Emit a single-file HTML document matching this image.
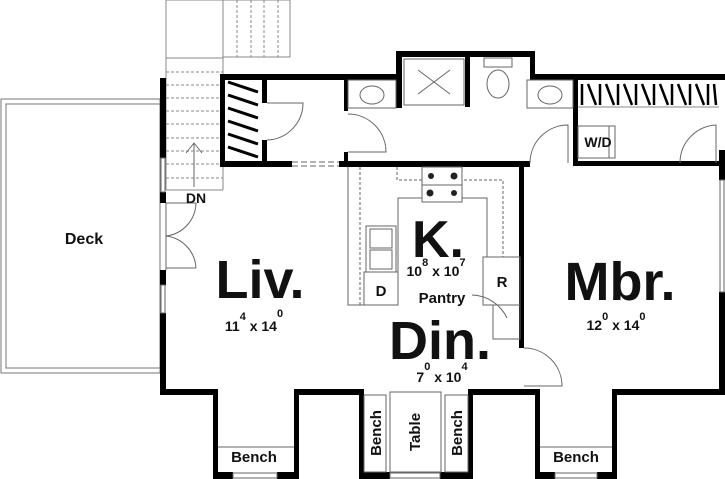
<!DOCTYPE html>
<html><head><style>
body{margin:0;background:#fff}
svg{display:block}
text{font-family:"Liberation Sans",Arial,sans-serif;font-weight:bold;fill:#111}
</style></head><body>
<svg width="725" height="479" viewBox="0 0 725 479" xmlns="http://www.w3.org/2000/svg">
<!-- Deck -->
<rect x="1" y="99" width="159" height="274" fill="none" stroke="#777" stroke-width="1"/>
<rect x="6" y="104" width="154" height="264" fill="none" stroke="#777" stroke-width="1"/>
<!-- upper stair -->
<g stroke="#888" stroke-width="1" fill="none">
<rect x="166" y="0" width="57" height="58"/>
<rect x="223" y="0" width="67" height="57"/>
<line x1="237" y1="0" x2="237" y2="57" stroke-dasharray="3,2"/>
<line x1="251" y1="0" x2="251" y2="57" stroke-dasharray="3,2"/>
<line x1="264" y1="0" x2="264" y2="57" stroke-dasharray="3,2"/>
<line x1="278" y1="0" x2="278" y2="57" stroke-dasharray="3,2"/>
<line x1="166" y1="58" x2="166" y2="190"/>
<line x1="223" y1="58" x2="223" y2="190"/>
<line x1="166" y1="190" x2="223" y2="190"/>
</g>
<g stroke="#888" stroke-width="1" stroke-dasharray="3,2">
<line x1="166" y1="72" x2="223" y2="72"/><line x1="166" y1="85" x2="223" y2="85"/>
<line x1="166" y1="98" x2="223" y2="98"/><line x1="166" y1="111" x2="223" y2="111"/>
<line x1="166" y1="124" x2="223" y2="124"/><line x1="166" y1="138" x2="223" y2="138"/>
<line x1="166" y1="151" x2="223" y2="151"/><line x1="166" y1="164" x2="223" y2="164"/>
<line x1="166" y1="178" x2="223" y2="178"/>
</g>
<g stroke="#666" stroke-width="1" fill="none">
<line x1="194" y1="187" x2="194" y2="143"/>
<polyline points="186,153 194,143 202,153"/>
</g>
<!-- thick walls -->
<g fill="#000">
<rect x="160" y="78" width="6" height="80"/>
<rect x="160" y="192" width="6" height="11"/>
<rect x="160" y="270" width="6" height="15"/>
<rect x="160" y="313" width="6" height="81"/>
<rect x="160" y="389" width="58" height="6"/>
<rect x="213" y="389" width="5" height="90"/>
<rect x="213" y="472" width="20" height="7"/>
<rect x="277" y="472" width="22" height="7"/>
<rect x="294" y="389" width="5" height="90"/>
<rect x="294" y="389" width="70" height="6"/>
<rect x="359" y="389" width="5" height="90"/>
<rect x="359" y="472" width="31" height="7"/>
<rect x="440" y="472" width="33" height="7"/>
<rect x="468" y="389" width="5" height="90"/>
<rect x="468" y="389" width="72" height="6"/>
<rect x="535" y="389" width="5" height="90"/>
<rect x="535" y="472" width="20" height="7"/>
<rect x="597" y="472" width="20" height="7"/>
<rect x="612" y="389" width="5" height="90"/>
<rect x="612" y="389" width="113" height="6"/>
<rect x="719" y="150" width="6" height="30"/>
<rect x="719" y="292" width="6" height="100"/>
<rect x="220" y="74" width="181" height="6"/>
<rect x="220" y="74" width="5" height="93"/>
<rect x="396" y="51" width="6" height="29"/>
<rect x="396" y="51" width="139" height="6"/>
<rect x="530" y="51" width="5" height="28"/>
<rect x="530" y="74" width="195" height="6"/>
<rect x="220" y="161" width="72" height="6"/>
<rect x="339" y="161" width="191" height="6"/>
<rect x="262" y="80" width="5" height="23"/>
<rect x="262" y="140" width="5" height="24"/>
<rect x="344" y="80" width="4" height="31"/>
<rect x="344" y="152" width="4" height="12"/>
<rect x="396" y="57" width="6" height="51"/>
<rect x="465" y="57" width="5" height="50"/>
<rect x="573" y="80" width="5" height="86"/>
<rect x="573" y="161" width="148" height="5"/>
<rect x="519" y="163" width="5" height="185"/>
</g>
<!-- closet rods -->
<g stroke="#000" stroke-width="3">
<line x1="228" y1="82" x2="258" y2="92"/><line x1="228" y1="95" x2="258" y2="105"/>
<line x1="228" y1="108" x2="258" y2="118"/><line x1="228" y1="121" x2="258" y2="131"/>
<line x1="228" y1="134" x2="258" y2="144"/><line x1="228" y1="147" x2="258" y2="157"/>
</g>
<g stroke="#000" stroke-width="2.5">
<line x1="582" y1="84" x2="582" y2="105"/><line x1="588" y1="84" x2="596" y2="105"/>
<line x1="600" y1="84" x2="600" y2="105"/><line x1="606" y1="84" x2="614" y2="105"/>
<line x1="618" y1="84" x2="618" y2="105"/><line x1="624" y1="84" x2="632" y2="105"/>
<line x1="636" y1="84" x2="636" y2="105"/><line x1="642" y1="84" x2="650" y2="105"/>
<line x1="654" y1="84" x2="654" y2="105"/><line x1="660" y1="84" x2="668" y2="105"/>
<line x1="672" y1="84" x2="672" y2="105"/><line x1="678" y1="84" x2="686" y2="105"/>
<line x1="690" y1="84" x2="690" y2="105"/><line x1="696" y1="84" x2="704" y2="105"/>
<line x1="708" y1="84" x2="708" y2="105"/><line x1="714" y1="84" x2="716" y2="105"/>
</g>
<line x1="578" y1="107" x2="719" y2="107" stroke="#888"/>
<g stroke="#666" stroke-width="1" fill="none">
<path d="M267 103 L303 103 A37 37 0 0 1 267 140"/>
<path d="M348 114 A38 38 0 0 1 386 152 L348 152"/>
<rect x="348" y="80" width="48" height="28"/>
<ellipse cx="372" cy="95" rx="12" ry="9"/>
<rect x="404" y="59" width="60" height="46"/>
<line x1="418" y1="70" x2="450" y2="94"/><line x1="450" y1="70" x2="418" y2="94"/>
<rect x="484" y="58" width="28" height="9"/>
<ellipse cx="498" cy="84" rx="11" ry="14"/>
<rect x="527" y="80" width="46" height="28"/>
<ellipse cx="550" cy="95" rx="12" ry="9"/>
<path d="M530 163 A38 38 0 0 1 568 125 L568 163"/>
<path d="M680 163 A38 38 0 0 1 716 125 L716 163"/>
<rect x="578" y="126" width="37" height="32"/>
<line x1="609" y1="126" x2="609" y2="158"/>
<line x1="292" y1="162" x2="339" y2="162" stroke-dasharray="6,3"/>
<line x1="292" y1="166" x2="339" y2="166" stroke-dasharray="6,3"/>
<rect x="161" y="158" width="4" height="34"/>
<rect x="161" y="285" width="4" height="28"/>
<rect x="720" y="180" width="4" height="112"/>
<rect x="233" y="473" width="44" height="5"/>
<rect x="390" y="473" width="50" height="5"/>
<rect x="555" y="473" width="42" height="5"/>
<path d="M166 203 L166 270 M166 236 A34 34 0 0 0 196 203 M166 236 A34 34 0 0 1 196 268 M166 203 L196 203 M166 268 L196 268"/>
<path d="M348 167 L348 305 L398 305 L398 198 L487 198 L487 257"/>
<path d="M360 167 L360 305" stroke-dasharray="3,2"/>
<path d="M397 167 L397 180 L503 180 L503 257" stroke-dasharray="3,2"/>
<rect x="422" y="167" width="40" height="35" fill="#fff"/>
<line x1="422" y1="185" x2="462" y2="185"/>
<rect x="366" y="226" width="30" height="46"/>
<rect x="370" y="229" width="22" height="19"/><rect x="370" y="250" width="22" height="19"/>
<rect x="364" y="272" width="34" height="33"/>
<rect x="483" y="257" width="37" height="48"/>
<rect x="493" y="305" width="27" height="34"/>
<path d="M472 295 A40 40 0 0 1 507 318"/>
<path d="M524 348 A38 38 0 0 1 562 386 L524 386"/>
<line x1="218" y1="447" x2="294" y2="447"/>
<line x1="540" y1="447" x2="612" y2="447"/>
<rect x="364" y="395" width="22" height="77"/>
<rect x="390" y="392" width="51" height="80"/>
<rect x="445" y="395" width="23" height="77"/>
</g>
<g fill="#222">
<circle cx="431" cy="176" r="3"/><circle cx="454" cy="176" r="3.5"/>
<circle cx="430" cy="193" r="3.5"/><circle cx="454" cy="193" r="3"/>
</g>
<text x="84" y="244" font-size="16" text-anchor="middle">Deck</text>
<text x="196" y="203" font-size="14" text-anchor="middle">DN</text>
<text x="598" y="147" font-size="14" text-anchor="middle">W/D</text>
<text x="260" y="298" font-size="54" text-anchor="middle">Liv.</text>
<text x="254" y="331" font-size="14" text-anchor="middle">11<tspan dy="-11" font-size="11">4</tspan><tspan dy="11"> x 14</tspan><tspan dy="-14" font-size="11">0</tspan></text>
<text x="438" y="257" font-size="52" text-anchor="middle">K.</text>
<text x="436" y="276" font-size="14" text-anchor="middle">10<tspan dy="-10" font-size="11">8</tspan><tspan dy="10"> x 10</tspan><tspan dy="-10" font-size="11">7</tspan></text>
<text x="442" y="303" font-size="15" text-anchor="middle">Pantry</text>
<text x="381" y="296" font-size="15" text-anchor="middle">D</text>
<text x="502" y="287" font-size="15" text-anchor="middle">R</text>
<text x="620" y="300" font-size="54" text-anchor="middle">Mbr.</text>
<text x="616" y="330" font-size="14" text-anchor="middle">12<tspan dy="-10" font-size="11">0</tspan><tspan dy="10"> x 14</tspan><tspan dy="-10" font-size="11">0</tspan></text>
<text x="440" y="359" font-size="54" text-anchor="middle">Din.</text>
<text x="442" y="382" font-size="14" text-anchor="middle">7<tspan dy="-12" font-size="11">0</tspan><tspan dy="12"> x 10</tspan><tspan dy="-12" font-size="11">4</tspan></text>
<text x="254" y="462" font-size="15" text-anchor="middle">Bench</text>
<text x="576" y="462" font-size="15" text-anchor="middle">Bench</text>
<text transform="translate(381,433) rotate(-90)" font-size="15" text-anchor="middle">Bench</text>
<text transform="translate(420,432) rotate(-90)" font-size="15" text-anchor="middle">Table</text>
<text transform="translate(462,433) rotate(-90)" font-size="15" text-anchor="middle">Bench</text>
</svg>
</body></html>
